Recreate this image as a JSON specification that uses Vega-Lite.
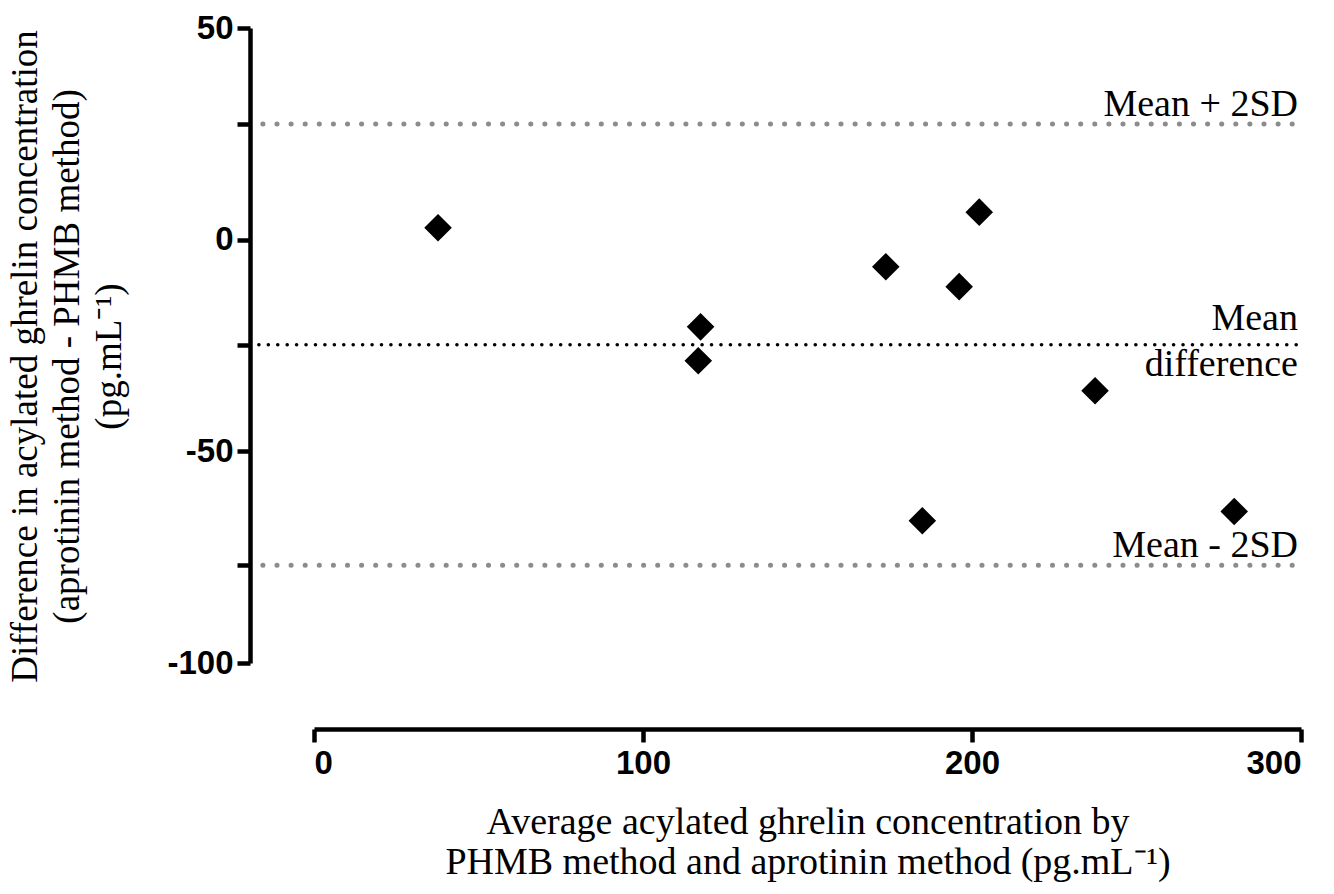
{
  "$schema": "https://vega.github.io/schema/vega-lite/v6.json",
  "width": 987,
  "height": 635,
  "autosize": "none",
  "padding": {"left": 314, "top": 28, "right": 33, "bottom": 231},
  "background": "white",
  "config": {
    "view": {"stroke": null},
    "axis": {
      "domainColor": "black",
      "tickColor": "black",
      "labelColor": "black",
      "titleColor": "#000000",
      "domainWidth": 4.5,
      "tickWidth": 4.5,
      "tickSize": 13,
      "grid": false,
      "labelFont": "Liberation Sans",
      "labelFontWeight": "bold",
      "labelFontSize": 33,
      "titleFont": "Liberation Serif",
      "titleFontWeight": "normal"
    }
  },
  "datasets": {
    "pairs": [
      {"avg": 37.7, "diff": 2.8},
      {"avg": 117.5, "diff": -20.6},
      {"avg": 116.8, "diff": -28.6},
      {"avg": 173.8, "diff": -6.4},
      {"avg": 196.1, "diff": -11.1},
      {"avg": 202.2, "diff": 6.5},
      {"avg": 184.9, "diff": -66.4},
      {"avg": 237.4, "diff": -35.7},
      {"avg": 279.7, "diff": -64.2}
    ],
    "limits": [
      {"kind": "sd", "label": "Mean + 2SD", "value": 27.3},
      {"kind": "mean", "label": "Mean", "value": -24.8},
      {"kind": "sd", "label": "Mean - 2SD", "value": -76.9}
    ]
  },
  "layer": [
    {
      "data": {"name": "limits"},
      "transform": [{"filter": "datum.kind === 'sd'"}],
      "mark": {"type": "rule", "color": "#8c8c8c", "strokeWidth": 5, "strokeCap": "round", "strokeDash": [0.1, 14], "strokeDashOffset": -13},
      "encoding": {
        "x": {"datum": -19.5, "type": "quantitative"},
        "x2": {"datum": 299},
        "y": {"field": "value", "type": "quantitative"}
      }
    },
    {
      "data": {"name": "limits"},
      "transform": [{"filter": "datum.kind === 'mean'"}],
      "mark": {"type": "rule", "color": "black", "strokeWidth": 3.5, "strokeCap": "round", "strokeDash": [0.1, 9.33], "strokeDashOffset": -9},
      "encoding": {
        "x": {"datum": -19.5, "type": "quantitative"},
        "x2": {"datum": 300},
        "y": {"field": "value", "type": "quantitative"}
      }
    },
    {
      "data": {"name": "limits"},
      "transform": [{"filter": "datum.kind === 'sd'"}],
      "mark": {"type": "text", "font": "Liberation Serif", "fontSize": 38, "color": "black", "align": "right", "baseline": "alphabetic", "dx": -3, "dy": -8},
      "encoding": {
        "x": {"datum": 300, "type": "quantitative"},
        "y": {"field": "value", "type": "quantitative"},
        "text": {"field": "label"}
      }
    },
    {
      "data": {"name": "limits"},
      "transform": [{"filter": "datum.kind === 'mean'"}],
      "mark": {"type": "text", "font": "Liberation Serif", "fontSize": 38, "color": "black", "align": "right", "baseline": "alphabetic", "dx": -3, "dy": -15},
      "encoding": {
        "x": {"datum": 300, "type": "quantitative"},
        "y": {"field": "value", "type": "quantitative"},
        "text": {"field": "label"}
      }
    },
    {
      "data": {"name": "limits"},
      "transform": [{"filter": "datum.kind === 'mean'"}],
      "mark": {"type": "text", "font": "Liberation Serif", "fontSize": 38, "color": "black", "align": "right", "baseline": "alphabetic", "dx": -3, "dy": 31},
      "encoding": {
        "x": {"datum": 300, "type": "quantitative"},
        "y": {"field": "value", "type": "quantitative"},
        "text": {"value": "difference"}
      }
    },
    {
      "data": {"name": "pairs"},
      "mark": {"type": "point", "shape": "diamond", "filled": true, "color": "black", "opacity": 1, "size": 760},
      "encoding": {
        "x": {
          "field": "avg",
          "type": "quantitative",
          "scale": {"domain": [0, 300], "nice": false, "zero": false},
          "axis": {
            "values": [0, 100, 200, 300],
            "offset": 66,
            "labelPadding": 5,
            "labelExpr": "'' + datum.value",
            "title": ["Average acylated ghrelin concentration by", "PHMB method and aprotinin method (pg.mL⁻¹)"],
            "titleFontSize": 38,
            "titleLineHeight": 40,
            "titlePadding": 23
          }
        },
        "y": {
          "field": "diff",
          "type": "quantitative",
          "scale": {"domain": [-100, 50], "nice": false, "zero": false},
          "axis": {
            "values": [50, 27.3, 0, -24.8, -50, -76.9, -100],
            "labelExpr": "datum.value % 50 === 0 ? '' + datum.value : ''",
            "offset": 64,
            "labelPadding": 4,
            "title": ["Difference in acylated ghrelin concentration", "(aprotinin method - PHMB method)", "(pg.mL⁻¹)"],
            "titleFontSize": 37,
            "titleLineHeight": 42,
            "titlePadding": 38,
            "titleY": 328
          }
        }
      }
    }
  ]
}
